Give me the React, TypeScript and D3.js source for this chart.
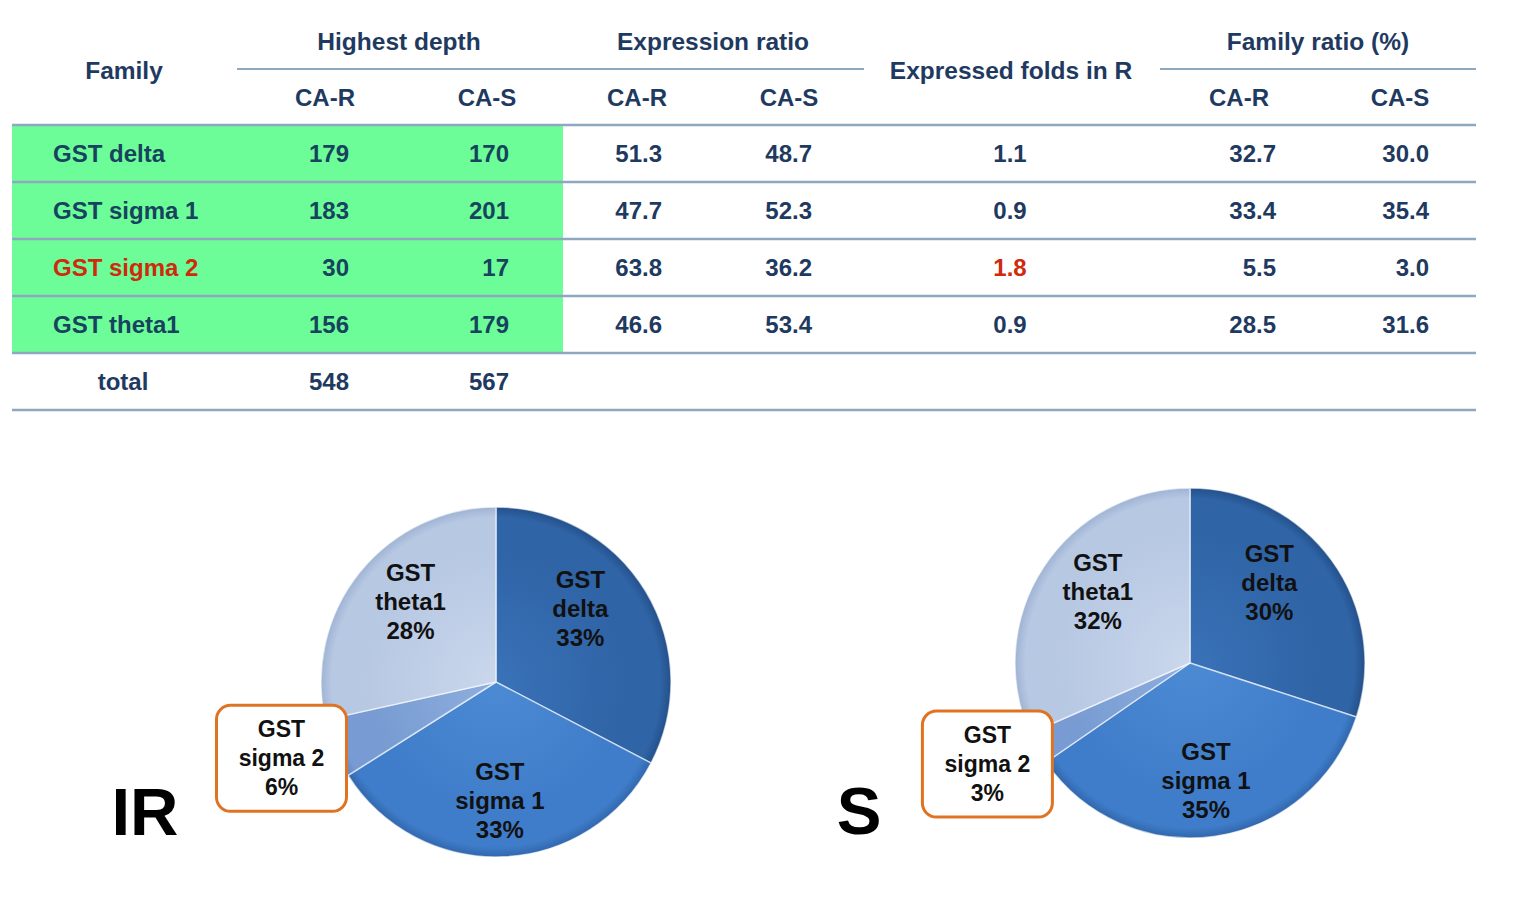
import React, { useEffect } from "react";
import * as d3 from "d3";

const families = ["GST delta", "GST sigma 1", "GST sigma 2", "GST theta1"];
const highlighted = [false, false, true, false];
const depthR = [179, 183, 30, 156];
const depthS = [170, 201, 17, 179];
const exprR = ["51.3", "47.7", "63.8", "46.6"];
const exprS = ["48.7", "52.3", "36.2", "53.4"];
const folds = ["1.1", "0.9", "1.8", "0.9"];
const famRatioR = ["32.7", "33.4", "5.5", "28.5"];
const famRatioS = ["30.0", "35.4", "3.0", "31.6"];
const totals = [548, 567];

const pieValuesR = [32.7, 33.4, 5.5, 28.5];
const pieValuesS = [30.0, 35.4, 3.0, 31.6];
const piePctR = ["33%", "33%", "6%", "28%"];
const piePctS = ["30%", "35%", "3%", "32%"];
const pieNames = [["GST", "delta"], ["GST", "sigma 1"], ["GST", "sigma 2"], ["GST", "theta1"]];

const sliceColors = [
  { light: "#3a72b8", base: "#2f64a6", dark: "#24508a" },
  { light: "#4c8ad4", base: "#3f7dca", dark: "#3167ad" },
  { light: "#8eaedd", base: "#779bd2", dark: "#6287c0" },
  { light: "#cad7ec", base: "#b7c8e3", dark: "#9fb3d3" },
];
const labelRadius = [108, 118, 232, 116];
const labelShift = [[-8, -17], [-1, 1], [0, -12], [5, -8]];

const FONT = "'Liberation Sans', Arial, sans-serif";
const HEAD = "#1f3a60";
const BODY = "#17435e";
const RED = "#d02a0c";
const LINE = "#8ea8c0";
const GREEN = "#6cfd98";

function Pie({ cx, cy, values, pct, title, titleX, titleY, id }: any) {
  const r = 175;
  const pie = d3.pie<number>().sort(null).value((d) => d)(values);
  const arc = d3.arc<any>().innerRadius(0).outerRadius(r);
  return (
    <g>
      <defs>
        {sliceColors.map((c, i) => (
          <radialGradient key={i} id={`${id}-g${i}`} gradientUnits="userSpaceOnUse" cx={0} cy={0} r={r}>
            <stop offset="0" stopColor={c.light} />
            <stop offset="0.75" stopColor={c.base} />
            <stop offset="0.94" stopColor={c.base} />
            <stop offset="1" stopColor={c.dark} />
          </radialGradient>
        ))}
      </defs>
      <g transform={`translate(${cx},${cy})`}>
        {pie.map((p, i) => (
          <path key={i} d={arc(p) || ""} fill={`url(#${id}-g${i})`} stroke="#ffffff" strokeOpacity={0.6} strokeWidth={1.5} />
        ))}
        {pie.map((p, i) => {
          const la = d3.arc<any>().innerRadius(labelRadius[i]).outerRadius(labelRadius[i]);
          const [cx0, cy0] = la.centroid(p);
          const lx = cx0 + labelShift[i][0];
          const ly = cy0 + labelShift[i][1];
          const boxed = i === 2;
          return (
            <g key={i}>
              {boxed && (
                <rect x={lx - 65} y={ly - 53} width={130} height={106} rx={14} fill="#ffffff" stroke="#e07322" strokeWidth={3} />
              )}
              {[...pieNames[i], pct[i]].map((t, k) => (
                <text key={k} x={lx} y={ly - 29 + k * 29} dy="0.35em" textAnchor="middle" fontFamily={FONT} fontWeight="bold" fontSize={boxed ? 23 : 24} fill="#111">{t}</text>
              ))}
            </g>
          );
        })}
      </g>
      <text x={titleX} y={titleY} textAnchor="middle" fontFamily={FONT} fontWeight="bold" fontSize={67} fill="#000">{title}</text>
    </g>
  );
}

export default function App() {
  useEffect(() => {
    document.body.style.margin = "0";
  }, []);

  const rowY = d3.scaleLinear().domain([0, 1]).range([125, 182]);
  const rowMid = (i: number) => (rowY(i) + rowY(i + 1)) / 2;
  const tableLeft = 12;
  const tableRight = 1476;

  const txt = (x: number, y: number, s: any, anchor: string, fill: string, key?: any, size = 24) => (
    <text key={key} x={x} y={y} dy="0.36em" textAnchor={anchor} fontFamily={FONT} fontWeight="bold" fontSize={size} fill={fill}>{s}</text>
  );

  return (
    <svg width={1526} height={907} style={{ display: "block", background: "#fff" }}>
      <rect x={0} y={0} width={1526} height={907} fill="#fff" />
      <rect x={tableLeft} y={rowY(0)} width={563 - tableLeft} height={rowY(4) - rowY(0)} fill={GREEN} />

      {txt(124, 70, "Family", "middle", HEAD, "h1", 24.5)}
      {txt(399, 41, "Highest depth", "middle", HEAD, "h2", 24.5)}
      {txt(713, 41, "Expression ratio", "middle", HEAD, "h3", 24.5)}
      {txt(1011, 70, "Expressed folds in R", "middle", HEAD, "h4", 24.5)}
      {txt(1318, 41, "Family ratio (%)", "middle", HEAD, "h5", 24.5)}
      {[325, 487, 637, 789, 1239, 1400].map((x, i) => txt(x, 97, i % 2 === 0 ? "CA-R" : "CA-S", "middle", HEAD, "sub" + i))}
      <line x1={237} x2={864} y1={69} y2={69} stroke={LINE} strokeWidth={2} />
      <line x1={1160} x2={tableRight} y1={69} y2={69} stroke={LINE} strokeWidth={2} />

      {[0, 1, 2, 3, 4, 5].map((i) => (
        <line key={i} x1={tableLeft} x2={tableRight} y1={rowY(i)} y2={rowY(i)} stroke={LINE} strokeWidth={2.5} />
      ))}

      {families.map((f, i) => {
        const y = rowMid(i);
        const red = highlighted[i];
        return (
          <g key={f}>
            {txt(53, y, f, "start", red ? RED : BODY)}
            {txt(349, y, depthR[i], "end", BODY)}
            {txt(509, y, depthS[i], "end", BODY)}
            {txt(662, y, exprR[i], "end", HEAD)}
            {txt(812, y, exprS[i], "end", HEAD)}
            {txt(1010, y, folds[i], "middle", red ? RED : HEAD)}
            {txt(1276, y, famRatioR[i], "end", HEAD)}
            {txt(1429, y, famRatioS[i], "end", HEAD)}
          </g>
        );
      })}
      {txt(123, rowMid(4), "total", "middle", HEAD)}
      {txt(349, rowMid(4), totals[0], "end", HEAD)}
      {txt(509, rowMid(4), totals[1], "end", HEAD)}

      <Pie id="ir" cx={496} cy={682} values={pieValuesR} pct={piePctR} title="IR" titleX={145} titleY={835} />
      <Pie id="s" cx={1190} cy={663} values={pieValuesS} pct={piePctS} title="S" titleX={859} titleY={834} />
    </svg>
  );
}
